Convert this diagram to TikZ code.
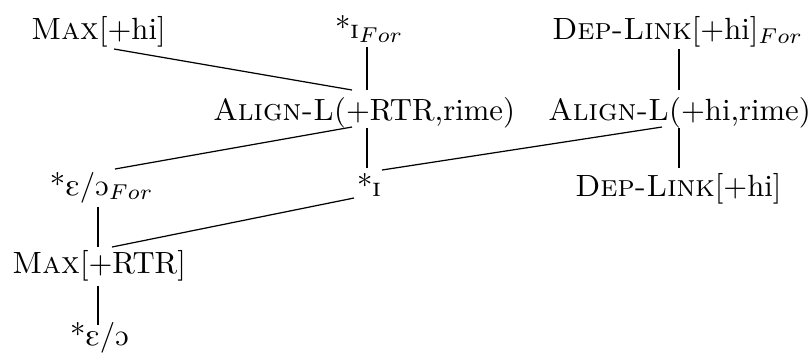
\documentclass[tikz,border=0pt]{standalone}
\usepackage{tipa}
\tikzset{
  lbl/.style={anchor=base west, inner sep=0pt, outer sep=0pt},
  edge/.style={line width=0.4pt, black}
}
\begin{document}
\begin{tikzpicture}[x=0.3257pt, y=-0.3257pt]
\useasboundingbox (0,0) rectangle (810,354);
% nodes
\node[lbl] (maxhi)  at (31,39)   {\textsc{Max}[+hi]};
\node[lbl] (ifor)   at (335,38)  {*\textsci$_{For}$};
\node[lbl] (depfor) at (552,39)  {\textsc{Dep-Link}[+hi]$_{For}$};
\node[lbl] (alrtr)  at (213,120) {\textsc{Align-L}(+RTR,rime)};
\node[lbl] (alhi)   at (548,120) {\textsc{Align-L}(+hi,rime)};
\node[lbl] (eofor)  at (50,195)  {*\textepsilon/\textopeno$_{For}$};
\node[lbl] (ii)     at (357,196) {*\textsci};
\node[lbl] (dep)    at (575,196) {\textsc{Dep-Link}[+hi]};
\node[lbl] (maxrtr) at (12,273)  {\textsc{Max}[+RTR]};
\node[lbl] (eo)     at (70,345)  {*\textepsilon/\textopeno};
% connectors
\draw[edge] ([shift={(83,10)}]maxhi.base west)  -- ([shift={(139,-30)}]alrtr.base west);
\draw[edge] ([shift={(32,9)}]ifor.base west)    -- ([shift={(154,-30)}]alrtr.base west);
\draw[edge] ([shift={(127,10)}]depfor.base west) -- ([shift={(131,-30)}]alhi.base west);
\draw[edge] ([shift={(139,7)}]alrtr.base west)  -- ([shift={(65,-26)}]eofor.base west);
\draw[edge] ([shift={(154,8)}]alrtr.base west)  -- ([shift={(10,-28)}]ii.base west);
\draw[edge] ([shift={(114,7)}]alhi.base west)   -- ([shift={(25,-26)}]ii.base west);
\draw[edge] ([shift={(131,8)}]alhi.base west)   -- ([shift={(104,-28)}]dep.base west);
\draw[edge] ([shift={(48,12)}]eofor.base west)  -- ([shift={(86,-26)}]maxrtr.base west);
\draw[edge] ([shift={(-3,2)}]ii.base west)      -- ([shift={(100,-26)}]maxrtr.base west);
\draw[edge] ([shift={(86,13)}]maxrtr.base west) -- ([shift={(28,-20)}]eo.base west);
\end{tikzpicture}
\end{document}
